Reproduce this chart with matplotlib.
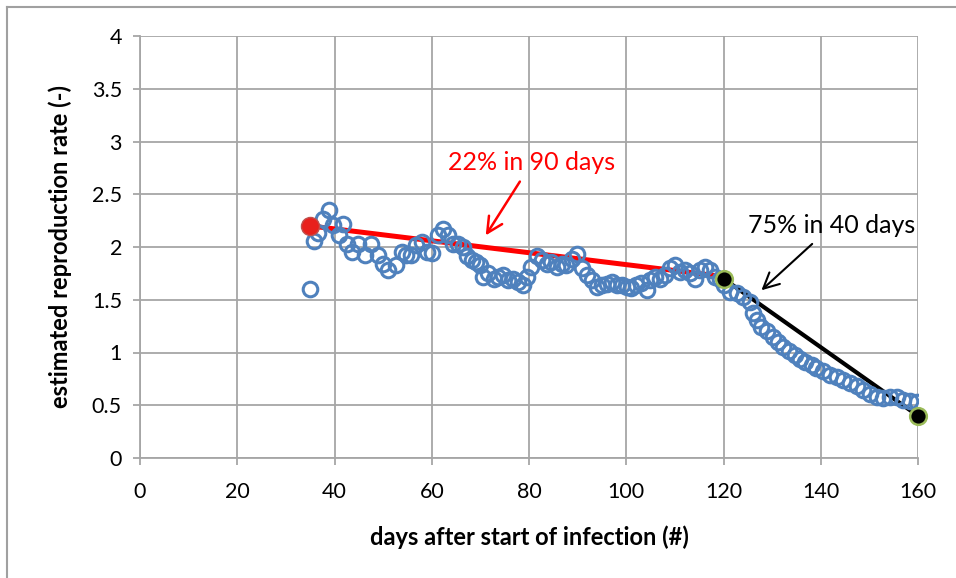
import numpy as np
import matplotlib
matplotlib.use('Agg')
import matplotlib.pyplot as plt
from matplotlib.lines import Line2D

# estimated reproduction rate
days = [35, 35.8, 36.7, 37.7, 38.9, 39.6, 40.9, 41.8, 42.6, 43.7, 44.9, 46.3, 47.6,
        49, 50, 51, 52.6, 53.8, 54.8, 55.8, 56.8, 57.9, 59, 60, 61.3, 62.4, 63.4,
        64.4, 65.4, 66.5, 67.2, 68.2, 69.2, 69.9, 70.6, 71.6, 72.7, 73.7, 74.7, 75.7,
        76.7, 77.8, 78.8, 79.5, 80.5, 81.6, 82.6, 83.6, 84.6, 85.7, 86.7, 87.7, 88.8,
        89.8, 90.8, 91.9, 93, 93.9, 95, 96, 97, 98, 99.1, 100.1, 101, 102.1, 103.1,
        104.2, 104.9, 105.9, 107, 108, 109, 110, 111.1, 112.1, 113.1, 114.1, 115.2,
        116.2, 117.2, 118.2, 119.3, 120, 121.3, 122.7, 124.1, 125.4, 126.1, 126.8,
        127.8, 128.9, 130.2, 131.3, 132.3, 133.4, 134.7, 135.7, 136.8, 138.1, 139.1,
        140.5, 141.9, 143.3, 144.6, 146, 147.4, 148.7, 150.1, 151.5, 152.8, 154.2,
        155.6, 157, 158.3, 159.7]
rate = [1.60, 2.06, 2.13, 2.27, 2.35, 2.21, 2.11, 2.22, 2.03, 1.95, 2.03, 1.92, 2.03,
        1.92, 1.84, 1.78, 1.83, 1.95, 1.92, 1.92, 2.02, 2.05, 1.95, 1.94, 2.11, 2.17, 2.11,
        2.03, 2.03, 2.00, 1.91, 1.875, 1.86, 1.83, 1.72, 1.75, 1.70, 1.72, 1.73, 1.69,
        1.70, 1.67, 1.64, 1.72, 1.81, 1.91, 1.88, 1.84, 1.86, 1.81, 1.84, 1.83, 1.89,
        1.93, 1.80, 1.73, 1.69, 1.62, 1.64, 1.65, 1.67, 1.64, 1.64, 1.62, 1.61, 1.64, 1.66,
        1.59, 1.69, 1.72, 1.70, 1.73, 1.80, 1.83, 1.76, 1.78, 1.75, 1.70, 1.78,
        1.81, 1.78, 1.72, 1.70, 1.64, 1.575, 1.56, 1.53, 1.48, 1.37, 1.31,
        1.24, 1.20, 1.15, 1.10, 1.05, 1.01, 0.975, 0.94, 0.91, 0.88, 0.85,
        0.82, 0.79, 0.77, 0.74, 0.71, 0.68, 0.64, 0.61, 0.58, 0.57, 0.58,
        0.58, 0.55, 0.54, 0.53]

# trend segments
red_x = [35, 120]
red_y = [2.20, 1.72]
black_x = [120, 160]
black_y = [1.70, 0.40]

plt.rcParams['font.family'] = ['Lato', 'DejaVu Sans']

fig = plt.figure(figsize=(9.56, 5.78), dpi=100)
ax = fig.add_axes([140 / 956, 1 - 458 / 578, 778 / 956, 422 / 578])

# outer frame like the chart area border
fig.add_artist(Line2D([7 / 956, 7 / 956], [0, 1 - 7 / 578], color='#a0a0a0', lw=1.5,
                      transform=fig.transFigure))
fig.add_artist(Line2D([7 / 956, 1], [1 - 7 / 578, 1 - 7 / 578], color='#a0a0a0', lw=1.5,
                      transform=fig.transFigure))

ax.plot(red_x, red_y, color='#ff0000', lw=3.6, zorder=2, solid_capstyle='butt')
ax.plot(black_x, black_y, color='black', lw=3.0, zorder=2, solid_capstyle='butt')
ax.plot(days, rate, 'o', ms=10.5, mfc='none', mec='#4f81bd', mew=2.2, zorder=3)
ax.plot([35], [2.20], 'o', ms=13, color='#e8201c', mec='#c0504d', zorder=4)
ax.plot(black_x, black_y, 'o', ms=12, color='black', mec='#9bbb59', mew=1.8, zorder=4,
        clip_on=False)

ax.annotate('22% in 90 days', xy=(71.1, 2.11), xytext=(80.6, 2.80),
            ha='center', va='center', color='#ff0000', fontsize=18,
            arrowprops=dict(arrowstyle='->', color='#ff0000', lw=1.8,
                            mutation_scale=28, shrinkA=4, shrinkB=0))
ax.annotate('75% in 40 days', xy=(127.8, 1.59), xytext=(142.3, 2.20),
            ha='center', va='center', color='black', fontsize=18,
            arrowprops=dict(arrowstyle='->', color='black', lw=1.5,
                            mutation_scale=28, shrinkA=4, shrinkB=0))

ax.set_xlim(0, 160)
ax.set_ylim(0, 4)
ax.set_xticks(np.arange(0, 161, 20))
ax.set_yticks(np.arange(0, 4.01, 0.5))
ax.set_yticklabels(['0', '0.5', '1', '1.5', '2', '2.5', '3', '3.5', '4'])
ax.grid(True, color='#a6a6a6', lw=1.3)
ax.set_axisbelow(True)
for side in ['top', 'right']:
    ax.spines[side].set_visible(False)
ax.spines['left'].set_color('#a6a6a6')
ax.spines['bottom'].set_color('#a6a6a6')
ax.spines['left'].set_linewidth(1.3)
ax.spines['bottom'].set_linewidth(1.3)
ax.tick_params(axis='both', colors='#a6a6a6', length=5, width=1.3, labelsize=15.5,
               labelcolor='black')
ax.tick_params(axis='x', pad=12)
ax.tick_params(axis='y', pad=8)
ax.set_xlabel('days after start of infection (#)', fontsize=17, fontweight='bold',
              labelpad=17)
ax.set_ylabel('estimated reproduction rate (-)', fontsize=17, fontweight='bold',
              labelpad=14)

fig.savefig('out.png', dpi=100)
